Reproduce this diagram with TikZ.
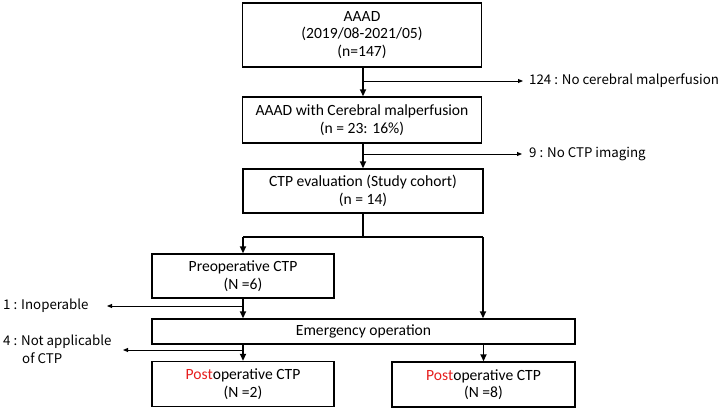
\documentclass[tikz,border=0pt]{standalone}
\usepackage{fontspec}
\setmainfont{Carlito}
\newfontfamily\jpfont{Noto Sans CJK JP}
\usetikzlibrary{arrows.meta}
\definecolor{postred}{RGB}{230,30,30}
\begin{document}
\begin{tikzpicture}[x=1pt,y=-1pt,
  box/.style={draw=black,line width=1.4pt,align=center,inner sep=0pt,font=\fontsize{15.6}{17.5}\selectfont},
  thick/.style={line width=1.8pt},
  thin/.style={line width=0.9pt},
  arr/.style={-{Triangle[length=7pt,width=6pt]}},
  sarr/.style={-{Triangle[length=5pt,width=4pt]}},
  side/.style={font=\jpfont\fontsize{13.3}{16}\selectfont,inner sep=0pt,anchor=west,align=left}]
\useasboundingbox (0,0) rectangle (728,410);
\node[box,minimum width=239pt,minimum height=64pt] (b1) at (362,35) {AAAD\\(2019/08-2021/05)\\(n=147)};
\node[box,minimum width=239pt,minimum height=46pt] (b2) at (362,120) {AAAD with Cerebral malperfusion\\(n = 23: 16\%)};
\node[box,minimum width=240pt,minimum height=44pt] (b3) at (363,191) {CTP evaluation (Study cohort)\\(n = 14)};
\node[box,minimum width=182pt,minimum height=44pt] (b4) at (243,276) {Preoperative CTP\\(N =6)};
\node[box,minimum width=423pt,minimum height=25pt] (em) at (363.5,331.5) {Emergency operation};
\node[box,minimum width=182pt,minimum height=45pt] (p1) at (243,384) {\textcolor{postred}{Post}operative CTP\\(N =2)};
\node[box,minimum width=183pt,minimum height=45pt] (p2) at (483.5,384.5) {\textcolor{postred}{Post}operative CTP\\(N =8)};
% side labels
\node[side] (l1) at (529,81) {124 : No cerebral malperfusion};
\node[side] (l2) at (529,154) {9 : No CTP imaging};
\node[side] (l3) at (3,306) {1 : Inoperable};
\node[side] (l4) at (3,342) {4 : Not applicable};
\node[side] (l5) at (22,358) {of CTP};
% coordinates
\coordinate (c1) at (363,81);
\coordinate (c2) at (363,154);
\coordinate (e1) at (523,81);
\coordinate (e2) at (522,154);
\coordinate (s3) at (363,237);
\coordinate (sl) at (243,237);
\coordinate (sr) at (483,237);
\coordinate (c3) at (243,306);
\coordinate (e3) at (107,306);
\coordinate (c4) at (243,350);
\coordinate (e4) at (123,350);
% connectors
\draw[thick,arr] (b1.south -| c1) -- (b2.north -| c1);
\draw[thin,sarr] (c1) -- (e1);
\draw[thick,arr] (b2.south -| c2) -- (b3.north -| c2);
\draw[thin,sarr] (c2) -- (e2);
\draw[thick] (b3.south -| s3) -- (s3);
\draw[thick] (sl) -- (sr);
\draw[thick,arr] (sl) -- (b4.north);
\draw[thick,arr] (sr) -- (em.north -| sr);
\draw[thick,arr] (b4.south) -- (em.north -| b4.south);
\draw[thin,sarr] (c3) -- (e3);
\draw[thick,arr] (em.south -| p1.north) -- (p1.north);
\draw[thin,sarr] (c4) -- (e4);
\draw[thick,arr] (em.south -| p2.north) -- (p2.north);
\end{tikzpicture}
\end{document}
